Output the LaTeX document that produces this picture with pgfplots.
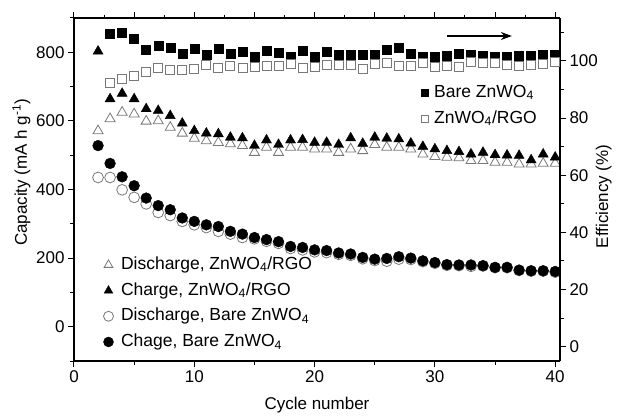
\documentclass[border=0pt]{standalone}
\usepackage{fontspec}
\setmainfont{Liberation Sans}
\usepackage{pgfplots}
\usepackage{pgfplotstable}
\pgfplotsset{compat=1.18}
\usetikzlibrary{arrows.meta}

\definecolor{opengray}{RGB}{120,120,120}

% capacity, mA h/g
\pgfplotstableread{
cyc dchrgo chrgo dchbare chbare
2  571 803 435 528
3  606 664 435 476
4  625 680 399 437
5  620 664 377 411
6  599 635 358 375
7  600 630 333 353
8  581 615 324 341
9  564 593 307 317
10 549 571 297 307
11 542 564 289 297
12 537 562 278 292
13 533 552 270 278
14 528 550 260 270
15 508 528 256 260
16 523 544 249 254
17 508 531 243 248
18 523 544 228 234
19 523 545 224 231
20 518 537 218 224
21 518 537 216 222
22 508 531 211 215
23 518 550 208 212
24 513 534 198 202
25 531 552 193 197
26 523 549 191 199
27 523 547 197 204
28 518 535 196 200
29 503 525 190 192
30 496 518 185 187
31 494 513 179 181
32 492 510 178 180
33 484 503 176 180
34 484 508 177 178
35 479 501 172 173
36 479 500 172 173
37 474 499 164 165
38 474 486 162 163
39 476 503 162 163
40 476 494 159 161
}\captab

% coulombic efficiency, %
\pgfplotstableread{
cyc bare rgo
3  109.4 92.2
4  109.7 93.7
5  107.6 94.7
6  103.9 96.2
7  105.4 97.4
8  104.7 96.8
9  102.5 97.0
10 104.1 97.1
11 102.1 98.6
12 104.2 97.4
13 102.5 98.2
14 103.3 97.6
15 101.5 97.9
16 103.6 98.3
17 103.0 98.3
18 101.3 98.9
19 103.5 97.6
20 101.5 98.0
21 103.1 98.6
22 102.1 98.6
23 102.1 98.6
24 102.1 97.2
25 102.1 98.8
26 103.9 99.2
27 104.5 98.2
28 102.5 98.2
29 101.5 99.2
30 101.5 98.0
31 101.8 98.3
32 102.6 98.0
33 102.1 99.5
34 101.8 99.2
35 101.5 99.2
36 101.5 98.6
37 101.8 98.2
38 101.8 98.6
39 102.1 98.9
40 102.3 99.8
}\efftab

\pgfplotsset{
  common/.style={
    scale only axis, width=486pt, height=343pt,
    xmin=0, xmax=40.4,
    tick align=outside,
    major tick length=6pt, minor tick length=3.5pt,
    every tick/.style={black, line width=1pt},
    axis line style={line width=1.2pt},
    tick label style={font=\fontsize{17}{19}\selectfont},
    label style={font=\fontsize{17}{19}\selectfont},
    /pgf/number format/assume math mode=true,
    legend style={draw=none, fill=none, font=\fontsize{17.5}{19}\selectfont,
      inner sep=0pt, column sep=2pt,
      nodes={inner sep=1.5pt, text height=13pt, text depth=4pt}},
    legend cell align=left,
  },
}

\begin{document}
\begin{tikzpicture}
\begin{axis}[common, name=ax,
    axis x line*=bottom, axis y line*=left,
    ymin=-100, ymax=900,
    xtick={0,10,20,30,40}, minor xtick={5,15,25,35},
    ytick={0,200,400,600,800}, minor ytick={-100,100,300,500,700,900},
    xlabel={Cycle number},
    ylabel={Capacity (mA h g\textsuperscript{-1})},
    xlabel style={at={(axis description cs:0.5,-0.128)}, anchor=center},
    ylabel style={at={(axis description cs:-0.108,0.55)}, anchor=center},
    legend style={at={(axis description cs:0.05,0.31)}, anchor=north west,
      row sep=5.7pt},
    legend image code/.code={\path[draw=none, fill=none] (0pt,-1pt) rectangle (19pt,1pt);
      \draw[mark size=5pt] plot coordinates {(10pt,0pt)};},
]
  \addplot[only marks, mark=triangle*, mark size=5.8pt,
    mark options={draw=opengray, fill=white, line width=0.8pt}]
    table[x=cyc, y=dchrgo] {\captab};
  \addlegendentry{Discharge, ZnWO\textsubscript{4}/RGO}
  \addplot[only marks, mark=triangle*, mark size=5.8pt,
    mark options={draw=black, fill=black}]
    table[x=cyc, y=chrgo] {\captab};
  \addlegendentry{Charge, ZnWO\textsubscript{4}/RGO}
  \addplot[only marks, mark=*, mark size=5.4pt,
    mark options={draw=opengray, fill=white, line width=0.8pt}]
    table[x=cyc, y=dchbare] {\captab};
  \addlegendentry{Discharge, Bare ZnWO\textsubscript{4}}
  \addplot[only marks, mark=*, mark size=5.4pt,
    mark options={draw=black, fill=black}]
    table[x=cyc, y=chbare] {\captab};
  \addlegendentry{Chage, Bare ZnWO\textsubscript{4}}
\end{axis}

\begin{axis}[common,
    axis x line*=top, axis y line*=right,
    ymin=-5, ymax=115,
    xtick={0,5,...,40}, minor xtick={2.5,7.5,...,37.5}, xticklabels={},
    ytick={0,20,40,60,80,100}, minor ytick={10,30,50,70,90,110},
    ylabel={Efficiency (\%)},
    ylabel style={at={(axis description cs:1.09,0.48)}, anchor=center},
    legend style={at={(axis description cs:0.7088,0.812)}, anchor=north west,
      row sep=6pt},
    legend image code/.code={\path[draw=none, fill=none] (0pt,-1pt) rectangle (12pt,1pt);
      \draw[mark size=3.6pt] plot coordinates {(6pt,0pt)};},
]
  \addplot[only marks, mark=square*, mark size=4.5pt,
    mark options={draw=black, fill=black}]
    table[x=cyc, y=bare] {\efftab};
  \addlegendentry{Bare ZnWO\textsubscript{4}}
  \addplot[only marks, mark=square*, mark size=4.5pt,
    mark options={draw=opengray, fill=white, line width=0.8pt}]
    table[x=cyc, y=rgo] {\efftab};
  \addlegendentry{ZnWO\textsubscript{4}/RGO}
  \draw[line width=1.8pt, -{Stealth[length=11pt, width=8pt]}]
    (axis cs:31,108.7) -- (axis cs:36.4,108.7);
\end{axis}
\pgfresetboundingbox
\path (ax.south west) ++(-74pt,-55pt) rectangle ++(618pt,416pt);
\end{tikzpicture}
\end{document}
